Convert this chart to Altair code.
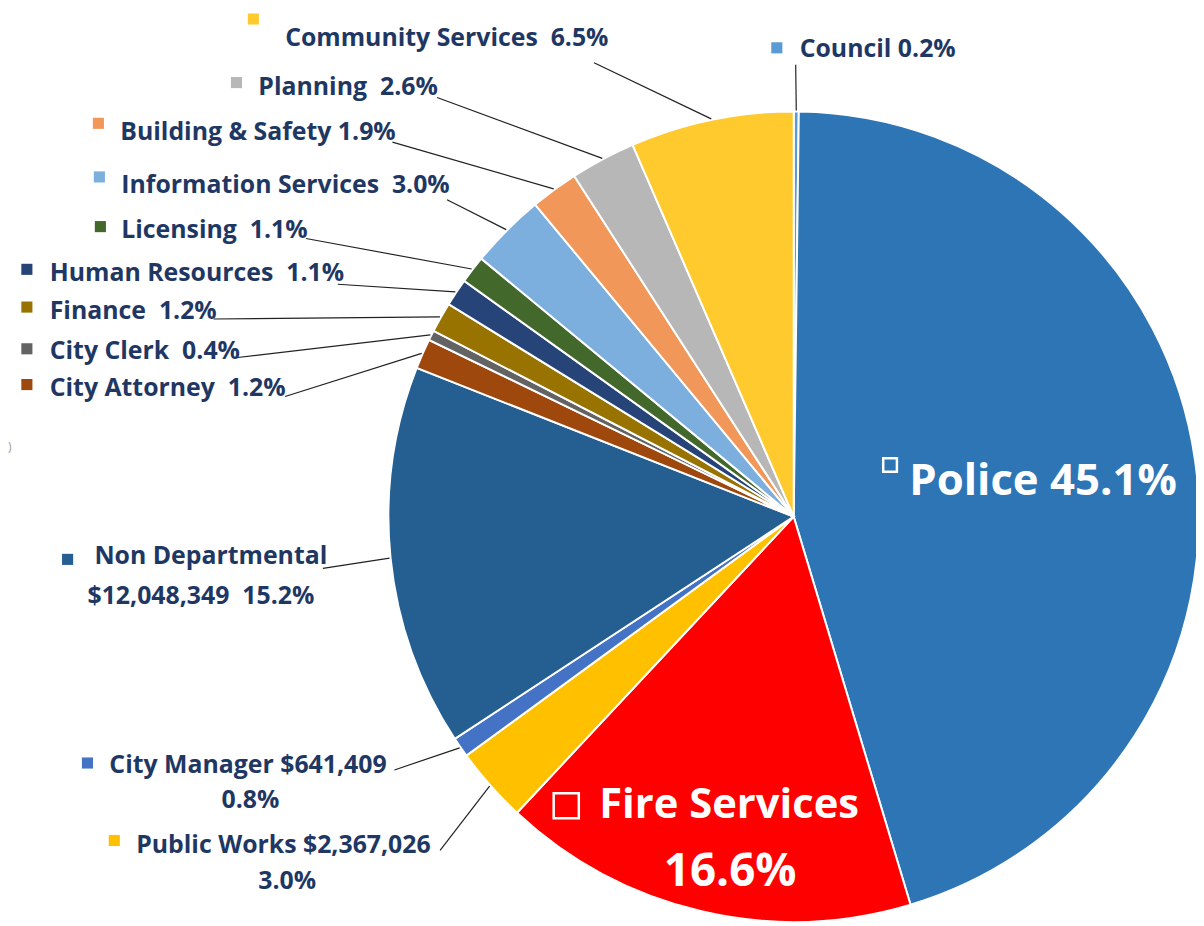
import altair as alt
import pandas as pd

# ---------------- data ----------------
names = ["Council", "Police", "Fire Services", "Public Works", "City Manager",
         "Non Departmental", "City Attorney", "City Clerk", "Finance",
         "Human Resources", "Licensing", "Information Services",
         "Building & Safety", "Planning", "Community Services"]
pcts = [0.2, 45.1, 16.6, 3.0, 0.8, 15.2, 1.2, 0.4, 1.2, 1.1, 1.1, 3.0, 1.9, 2.6, 6.5]
amounts = {"Non Departmental": "$12,048,349", "City Manager": "$641,409",
           "Public Works": "$2,367,026"}
colors = ["#5B9BD5", "#2E75B6", "#FF0000", "#FFC000", "#4472C4",
          "#255E91", "#9E480E", "#636363", "#997300",
          "#264478", "#43682B", "#7CAFDD",
          "#F1975A", "#B7B7B7", "#FFCA2E"]

# ---------------- layout (page px) ----------------
OFF = 8
CX, CY, R = 799 - OFF, 517 - OFF, 408
R_LEAD = 409
NAVY = "#1F3763"
FONT = "Open Sans"
FS = 25
SP = "\u00a0"

# label-side start (lx, ly) of leader lines
lead_start = {
    "Community Services": (598, 60), "Council": (801, 62), "Planning": (440, 95),
    "Building & Safety": (395, 140), "Information Services": (450, 198),
    "Licensing": (308, 237), "Human Resources": (340, 283), "Finance": (215, 318),
    "City Clerk": (237, 357), "City Attorney": (287, 396),
    "Non Departmental": (325, 569), "City Manager": (397, 772),
    "Public Works": (443, 853),
}
square_pos = {
    "Community Services": (255, 16), "Council": (782, 45), "Planning": (238, 80),
    "Building & Safety": (99, 121), "Information Services": (100, 175),
    "Licensing": (101, 225), "Human Resources": (27, 268), "Finance": (27, 306),
    "City Clerk": (27, 348), "City Attorney": (27, 384),
    "Non Departmental": (68, 560), "City Manager": (88, 765),
    "Public Works": (115, 843),
}
label_pos = {
    "Community Services": [(287, 35)], "Council": [(805, 46)], "Planning": [(260, 84)],
    "Building & Safety": [(121, 130)], "Information Services": [(122, 183)],
    "Licensing": [(122, 228)], "Human Resources": [(50, 272)], "Finance": [(50, 310)],
    "City Clerk": [(50, 350)], "City Attorney": [(50, 388)],
    "Non Departmental": [(95, 557), (88, 597)],
    "City Manager": [(110, 767), (252, 802)],
    "Public Works": [(137, 848), (289, 884)],
}
pct_of = dict(zip(names, pcts))


def pct(n):
    return f"{pct_of[n]:.1f}%"


single_gap = {"Council", "Building & Safety"}
rows_left, rows_center = [], []
for n, pos in label_pos.items():
    if n in amounts:
        if n == "Non Departmental":
            rows_left.append(dict(t=n, x=pos[0][0] - OFF, y=pos[0][1] - OFF))
            rows_left.append(dict(t=f"{amounts[n]} {SP}{pct(n)}", x=pos[1][0] - OFF, y=pos[1][1] - OFF))
        else:
            rows_left.append(dict(t=f"{n} {amounts[n]}", x=pos[0][0] - OFF, y=pos[0][1] - OFF))
            rows_center.append(dict(t=pct(n), x=pos[1][0] - OFF, y=pos[1][1] - OFF))
    else:
        gap = " " if n in single_gap else " " + SP
        rows_left.append(dict(t=f"{n}{gap}{pct(n)}", x=pos[0][0] - OFF, y=pos[0][1] - OFF))

big_rows = [
    dict(t=f"Police {pct('Police')}", x=1050 - OFF, y=482 - OFF, s=44),
    dict(t="Fire Services", x=734 - OFF, y=807 - OFF, s=42),
    dict(t=pct("Fire Services"), x=735 - OFF, y=875 - OFF, s=46),
]
hollow = [dict(x=896 - OFF, y=465 - OFF, s=190), dict(x=570 - OFF, y=808 - OFF, s=640)]

df = pd.DataFrame({"name": names, "value": pcts, "ord": list(range(len(names))),
                   "color": colors})
df["lx"] = [lead_start[n][0] - OFF if n in lead_start else None for n in names]
df["ly"] = [lead_start[n][1] - OFF if n in lead_start else None for n in names]
df["sx"] = [square_pos[n][0] - OFF if n in square_pos else None for n in names]
df["sy"] = [square_pos[n][1] - OFF if n in square_pos else None for n in names]

base = alt.Chart(df)

pie = base.mark_arc(radius=R, stroke="white", strokeWidth=2).encode(
    theta=alt.Theta("value:Q", stack=True),
    order=alt.Order("ord:Q"),
    color=alt.Color("color:N", scale=None),
    x=alt.value(CX), y=alt.value(CY),
)

leaders = base.transform_window(
    cum="sum(value)", sort=[{"field": "ord"}], frame=[None, 0]
).transform_joinaggregate(total="sum(value)").transform_calculate(
    mid="(datum.cum - datum.value/2) / datum.total * 2 * PI",
).transform_calculate(
    ex=f"{CX} + {R_LEAD} * sin(datum.mid)",
    ey=f"{CY} - {R_LEAD} * cos(datum.mid)",
).transform_filter("isValid(datum.lx)").mark_rule(color="#222222", strokeWidth=1.2).encode(
    x=alt.X("lx:Q", scale=None, axis=None),
    y=alt.Y("ly:Q", scale=None, axis=None),
    x2="ex:Q", y2="ey:Q",
)

squares = base.transform_filter("isValid(datum.sx)").mark_square(size=125, opacity=1).encode(
    x=alt.X("sx:Q", scale=None, axis=None),
    y=alt.Y("sy:Q", scale=None, axis=None),
    color=alt.Color("color:N", scale=None),
)

txt_left = alt.Chart(pd.DataFrame(rows_left)).mark_text(
    align="left", baseline="middle", font=FONT, fontWeight="bold", fontSize=FS, color=NAVY
).encode(x=alt.X("x:Q", scale=None, axis=None), y=alt.Y("y:Q", scale=None, axis=None), text="t:N")

txt_center = alt.Chart(pd.DataFrame(rows_center)).mark_text(
    align="center", baseline="middle", font=FONT, fontWeight="bold", fontSize=FS, color=NAVY
).encode(x=alt.X("x:Q", scale=None, axis=None), y=alt.Y("y:Q", scale=None, axis=None), text="t:N")

txt_big = alt.Chart(pd.DataFrame(big_rows)).mark_text(
    align="center", baseline="middle", font=FONT, fontWeight="bold", color="white"
).encode(x=alt.X("x:Q", scale=None, axis=None), y=alt.Y("y:Q", scale=None, axis=None),
         text="t:N", size=alt.Size("s:Q", scale=None))

hollow_sq = alt.Chart(pd.DataFrame(hollow)).mark_square(
    filled=False, stroke="white", strokeWidth=2.5, opacity=1
).encode(x=alt.X("x:Q", scale=None, axis=None), y=alt.Y("y:Q", scale=None, axis=None),
         size=alt.Size("s:Q", scale=None))

stray = alt.Chart(pd.DataFrame([{"t": ")", "x": 0, "y": 447 - OFF}])).mark_text(
    align="left", baseline="middle", fontSize=12, color="#999999", font=FONT
).encode(x=alt.X("x:Q", scale=None, axis=None), y=alt.Y("y:Q", scale=None, axis=None), text="t:N")

chart = alt.layer(pie, leaders, squares, txt_left, txt_center, txt_big, hollow_sq, stray).properties(
    width=1196, height=918, padding=0,
    autosize=alt.AutoSizeParams(type="none"),
    background="white",
).configure_view(stroke=None)

chart.save("out.html", embed_options={"renderer": "svg", "actions": False})
